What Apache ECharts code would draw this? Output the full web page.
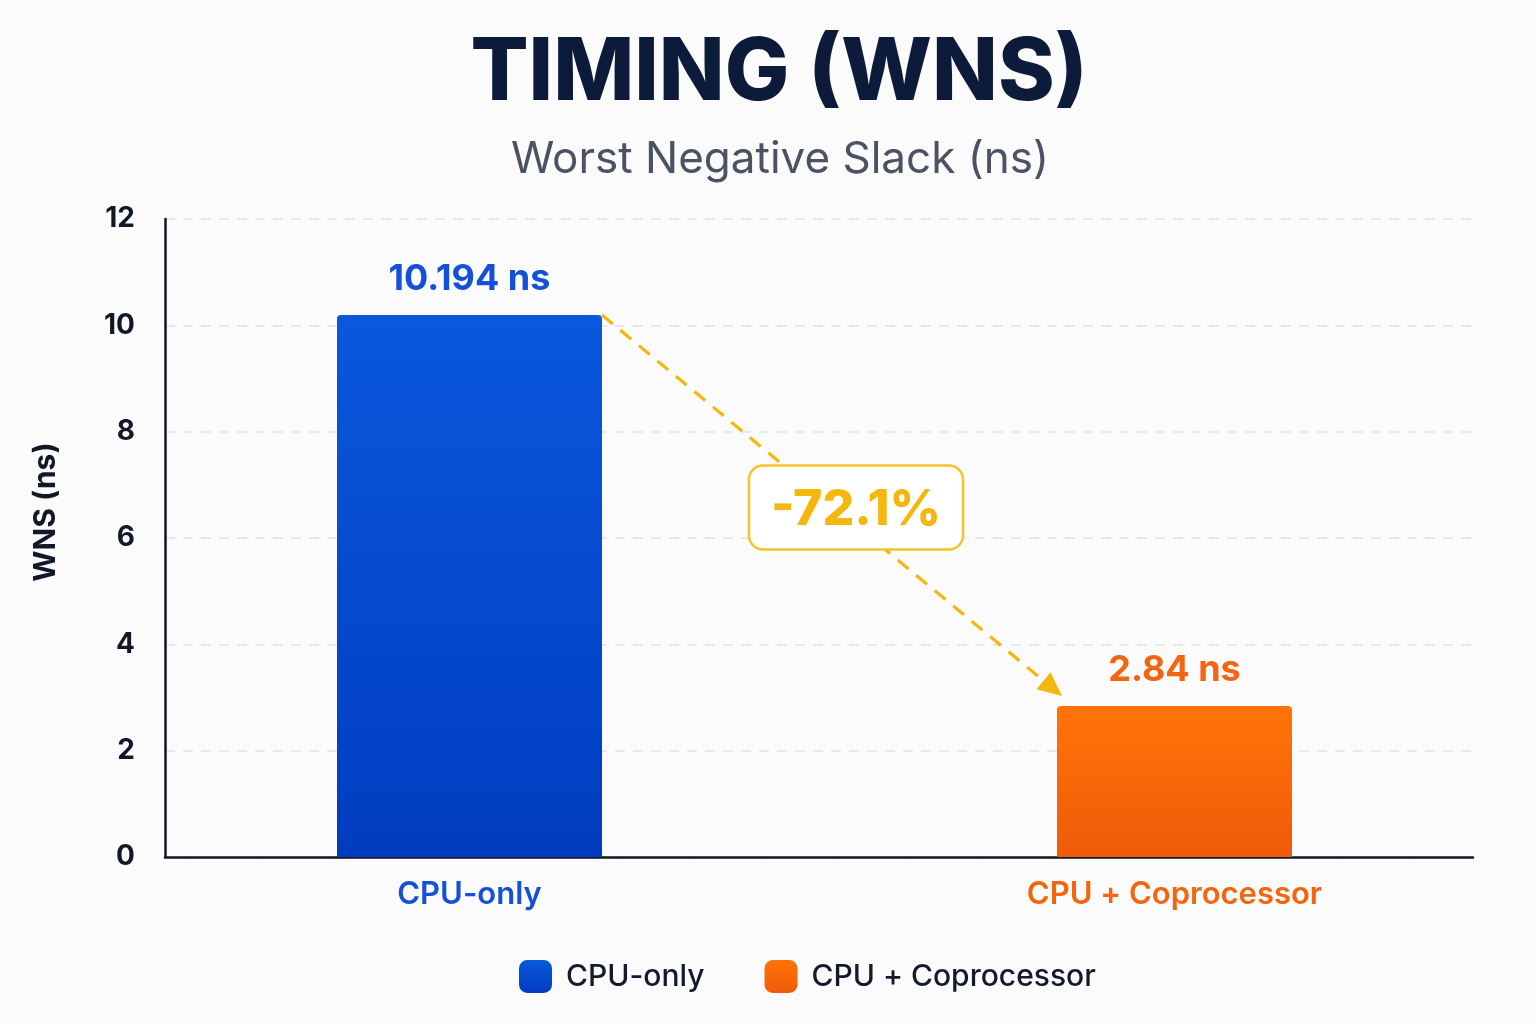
<!DOCTYPE html>
<html>
<head>
<meta charset="utf-8">
<script src="https://cdn.jsdelivr.net/npm/echarts@6/dist/echarts.min.js"></script>
<style>
html,body{margin:0;padding:0;background:#fbfbfb;}
#c{width:1536px;height:1024px;}
</style>
</head>
<body>
<div id="c"></div>
<script>
const categories = ['CPU-only', 'CPU + Coprocessor'];
const cpuOnly = [10.194, '-'];
const cpuCop = ['-', 2.84];
const yTicks = [0, 2, 4, 6, 8, 10, 12];

const gold = '#f4b70e';
const FONT = 'Inter';
const chart = echarts.init(document.getElementById('c'));
const pct = ((cpuCop[1] - cpuOnly[0]) / cpuOnly[0] * 100).toFixed(1) + '%';

const option = {
  backgroundColor: '#fbfbfb',
  animation: false,
  title: [
    {text: 'TIMING (WNS)', left: 774, textAlign: 'center', top: 26,
     textStyle: {fontFamily: FONT, fontSize: 86, fontWeight: 800, color: '#0d1b3a', lineHeight: 86}},
    {text: 'Worst Negative Slack (ns)', left: 775, textAlign: 'center', top: 133,
     textStyle: {fontFamily: FONT, fontSize: 44, fontWeight: 400, color: '#4a5263', lineHeight: 44}}
  ],
  legend: {
    data: categories, top: 955, left: 514, itemWidth: 33, itemHeight: 33, itemGap: 60,
    icon: 'roundRect',
    textStyle: {fontFamily: FONT, fontSize: 30, fontWeight: 500, color: '#141a2e', padding: [0, 0, 0, 9]}
  },
  grid: [
    {left: 165, right: 63, top: 219, bottom: 167},
    {left: 117, right: 9, top: 219, bottom: 167}
  ],
  xAxis: [
    {gridIndex: 0, type: 'value', min: 0, max: 1, axisLabel: {show: false}, axisTick: {show: false},
     splitLine: {show: false}, axisLine: {lineStyle: {color: '#111827', width: 2.5}}},
    {gridIndex: 1, type: 'category', data: categories, axisLine: {show: false}, axisTick: {show: false},
     axisLabel: {margin: 22, fontFamily: FONT, fontSize: 31, fontWeight: 600,
       color: (v, i) => i === 0 ? '#1450d8' : '#f4650f'}},
    {gridIndex: 1, type: 'category', data: categories, show: false}
  ],
  yAxis: [
    {gridIndex: 0, type: 'value', min: yTicks[0], max: yTicks[yTicks.length - 1], interval: 2,
     name: 'WNS (ns)', nameLocation: 'middle', nameGap: 104,
     nameTextStyle: {fontFamily: FONT, fontSize: 30, fontWeight: 700, color: '#111827', padding: [0, 0, 0, 52]},
     axisLine: {show: true, lineStyle: {color: '#111827', width: 2.5}},
     axisTick: {show: false},
     axisLabel: {margin: 30, fontFamily: FONT, fontSize: 28, fontWeight: 700, color: '#111827'},
     splitLine: {lineStyle: {color: '#dfe2e8', type: [10, 8], width: 1.5}}},
    {gridIndex: 1, type: 'value', min: 0, max: 12, show: false}
  ],
  series: [
    {name: categories[0], type: 'bar', xAxisIndex: 1, yAxisIndex: 1, data: cpuOnly, barWidth: 265,
     itemStyle: {borderRadius: [4, 4, 0, 0],
       color: new echarts.graphic.LinearGradient(0, 0, 0, 1, [{offset: 0, color: '#0a58dc'}, {offset: 1, color: '#003cc0'}])},
     label: {show: true, position: 'top', distance: 18, formatter: p => p.value + ' ns',
       fontFamily: FONT, fontSize: 36, fontWeight: 700, color: '#1450d8'}},
    {name: categories[1], type: 'bar', xAxisIndex: 2, yAxisIndex: 1, data: cpuCop, barWidth: 235,
     itemStyle: {borderRadius: [4, 4, 0, 0],
       color: new echarts.graphic.LinearGradient(0, 0, 0, 1, [{offset: 0, color: '#ff7408'}, {offset: 1, color: '#f05a0a'}])},
     label: {show: true, position: 'top', distance: 18, formatter: p => p.value + ' ns',
       fontFamily: FONT, fontSize: 36, fontWeight: 700, color: '#f4650f'}}
  ]
};
chart.setOption(option);

// arrow + badge positioned through the series' scales
const p0 = chart.convertToPixel({seriesIndex: 0}, [0, cpuOnly[0]]);
const p1 = chart.convertToPixel({seriesIndex: 1}, [1, cpuCop[1]]);
const sx = p0[0] + 265 / 2, sy = p0[1];
const tx = p1[0] - 235 / 2 + 5, ty = p1[1] - 10;
const dx = tx - sx, dy = ty - sy, L = Math.hypot(dx, dy), ux = dx / L, uy = dy / L;
const headL = 24, headW = 11;
const bx = tx - ux * headL, by = ty - uy * headL;
const mx = (sx + tx) / 2 + 24, my = (sy + ty) / 2 + 2;
chart.setOption({
  graphic: [
    {type: 'line', z: 10, shape: {x1: sx, y1: sy, x2: bx + ux * 2, y2: by + uy * 2},
     style: {stroke: gold, lineWidth: 3.2, lineDash: [14, 10]}},
    {type: 'polygon', z: 10, shape: {points: [[tx, ty], [bx - uy * headW, by + ux * headW], [bx + uy * headW, by - ux * headW]]},
     style: {fill: gold}},
    {type: 'rect', z: 20, shape: {x: mx - 107, y: my - 42, width: 214, height: 84, r: 14},
     style: {fill: '#ffffff', stroke: '#f6c22a', lineWidth: 2.5}},
    {type: 'text', z: 21, x: mx, y: my + 2, style: {text: pct, textAlign: 'center', textVerticalAlign: 'middle',
      font: '800 50px Inter', fill: gold}}
  ]
});
</script>
</body>
</html>
